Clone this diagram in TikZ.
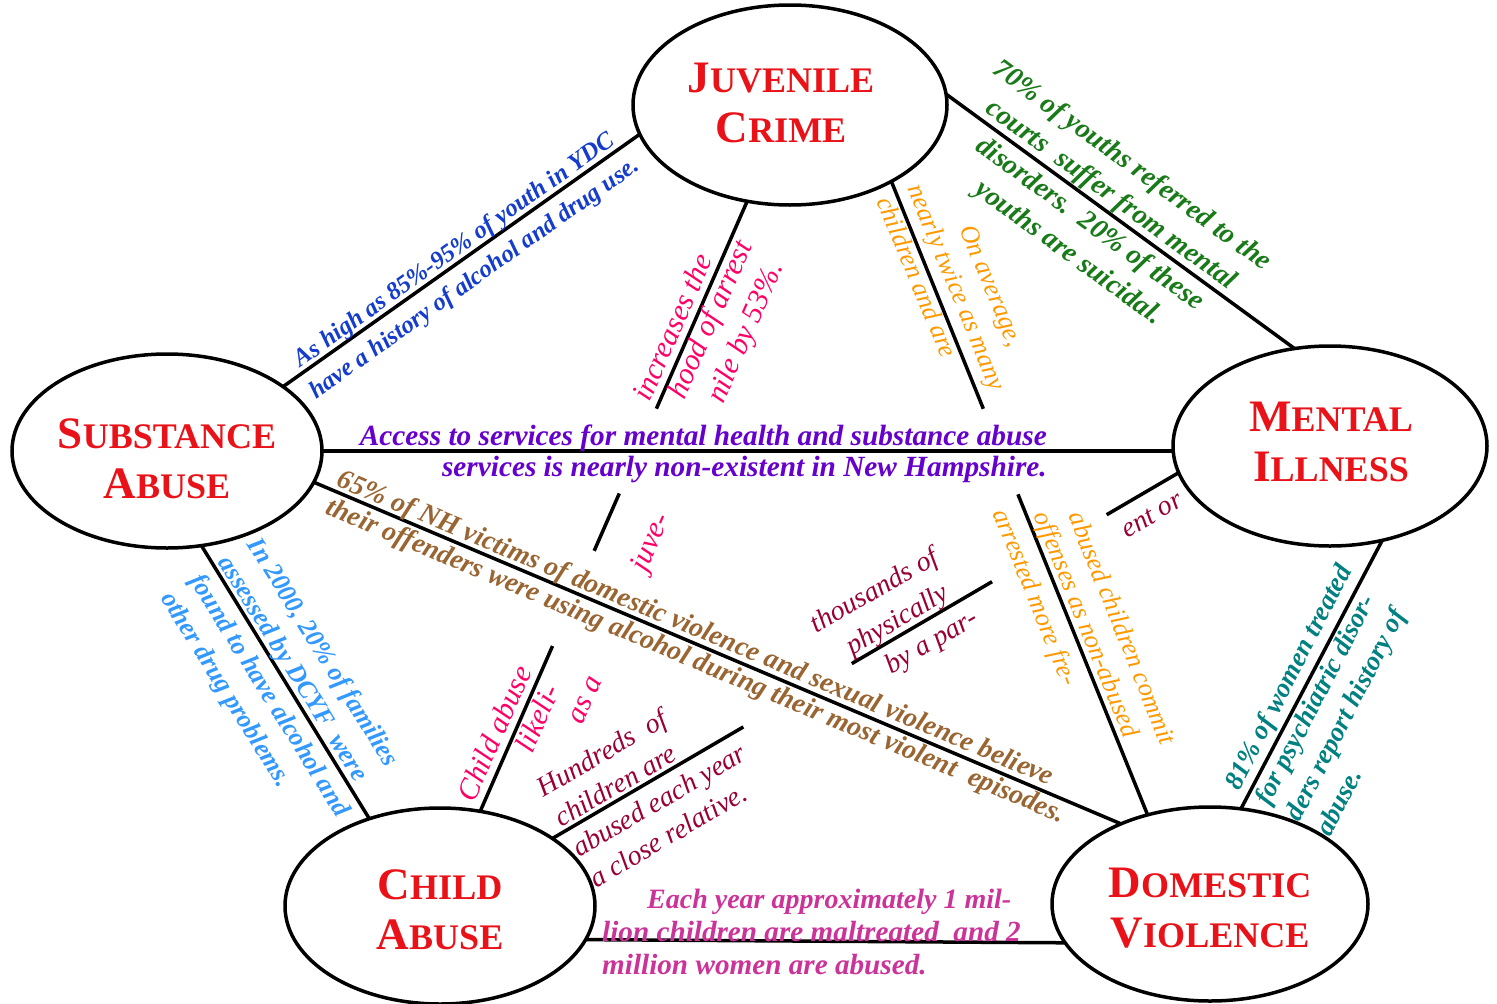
\documentclass[tikz,border=0pt]{standalone}
\usepackage{fontspec}
\setmainfont{Liberation Serif}
\usetikzlibrary{shapes.geometric,calc}
\definecolor{titlered}{RGB}{232,18,24}
\definecolor{cblue}{RGB}{20,60,205}
\definecolor{cgreen}{RGB}{26,122,26}
\definecolor{corange}{RGB}{255,153,0}
\definecolor{cpink}{RGB}{255,0,102}
\definecolor{cpurple}{RGB}{102,0,204}
\definecolor{cbrown}{RGB}{153,102,51}
\definecolor{clblue}{RGB}{51,153,255}
\definecolor{cdred}{RGB}{153,0,51}
\definecolor{cteal}{RGB}{0,128,128}
\definecolor{cmag}{RGB}{204,51,153}
\newcommand{\tsc}[2]{{\fontsize{45}{50}\selectfont #1}{\fontsize{36}{50}\selectfont #2}}
\newcommand{\myfs}[2]{\fontsize{#1}{#2}\selectfont}
\tikzset{
  conn/.style={line width=3.5pt, black},
  oval/.style={ellipse, draw, line width=3.5pt, inner sep=0pt, outer sep=0pt},
  ttl/.style={text=titlered, font=\bfseries\myfs{45}{50}, align=center, inner sep=0pt},
  lab/.style={inner sep=0pt, font=\itshape},
}
\begin{document}
\begin{tikzpicture}[x=1pt,y=-1pt]
\path[fill=white,use as bounding box] (0,0) rectangle (1497,1004);

% ellipses
\node[oval, minimum width=314, minimum height=200] (jc) at (790,105) {};
\node[oval, minimum width=310, minimum height=194] (sa) at (167,451) {};
\node[oval, minimum width=314, minimum height=200] (mi) at (1330,446) {};
\node[oval, minimum width=310, minimum height=196] (ca) at (440,906) {};
\node[oval, minimum width=316, minimum height=194] (dv) at (1210,904) {};

% titles
\node[ttl] (jct) at (781,103) {\tsc{J}{UVENILE}\\\tsc{C}{RIME}};
\node[ttl] (sat) at (167,459) {\tsc{S}{UBSTANCE}\\\tsc{A}{BUSE}};
\node[ttl] (mit) at (1331,442) {\tsc{M}{ENTAL}\\\tsc{I}{LLNESS}};
\node[ttl] (cat) at (440,910) {\tsc{C}{HILD}\\\tsc{A}{BUSE}};
\node[ttl] (dvt) at (1210,908) {\tsc{D}{OMESTIC}\\\tsc{V}{IOLENCE}};

% connectors
\draw[conn] (sa.29.6) -- (jc.191.1);
\draw[conn] (jc.4.4) -- (mi.110.8);
\draw[conn] (sa.east) -- (sa.east -| mi.west);
\draw[conn] (sa.-12.8) -- (dv.138.1);
\draw[conn] (sa.-70.8) -- (ca.129.3);
\coordinate (jcb) at (jc.246.3);
\coordinate (caj) at (ca.67.7);
\draw[conn] (jcb) -- ($(jcb)!0.34!(caj)$);
\draw[conn] ($(jcb)!0.479!(caj)$) -- ($(jcb)!0.573!(caj)$);
\draw[conn] ($(jcb)!0.729!(caj)$) -- (caj);
\coordinate (jcd) at (jc.-37.7);
\coordinate (dvj) at (dv.125.7);
\draw[conn] (jcd) -- ($(jcd)!0.359!(dvj)$);
\draw[conn] ($(jcd)!0.494!(dvj)$) -- (dvj);
\coordinate (mic) at (mi.190);
\coordinate (cam) at (ca.31.2);
\draw[conn] (mic) -- ($(mic)!0.115!(cam)$);
\draw[conn] ($(mic)!0.298!(cam)$) -- ($(mic)!0.522!(cam)$);
\draw[conn] ($(mic)!0.695!(cam)$) -- (cam);
\draw[conn] (mi.-61.7) -- (dv.72.9);
\draw[conn] (ca.-13.9) -- (dv.195.4);

% labels
\node[lab, text=cblue, rotate=35.4, align=center, font=\bfseries\itshape\myfs{24.8}{35}] (t1) at (465,265)
  {As high as 85\%-95\% of youth in YDC\\have a history of alcohol and drug use.};
\node[lab, text=cgreen, rotate=-36.1, align=center, font=\bfseries\itshape\myfs{28}{36}] (t2) at (1100,210)
  {70\% of youths referred to the\\courts\ \ suffer from mental\\disorders.\ \ 20\% of these\\youths are suicidal.};

\node[lab, text=cpink, rotate=66.2, font=\itshape\myfs{30}{34}] (p1) at (672,327) {increases the};
\node[lab, text=cpink, rotate=66.2, font=\itshape\myfs{30}{34}] (p2) at (712,320) {hood of arrest};
\node[lab, text=cpink, rotate=66.2, font=\itshape\myfs{30}{34}] (p3) at (747,333) {nile by 53\%.};
\node[lab, text=cpink, rotate=66.2, font=\itshape\myfs{30}{34}] (p4) at (652,543) {juve-};
\node[lab, text=cpink, rotate=66.2, font=\itshape\myfs{30}{34}] (p5) at (494,733) {Child abuse};
\node[lab, text=cpink, rotate=66.2, font=\itshape\myfs{30}{34}] (p6) at (537,718) {likeli-};
\node[lab, text=cpink, rotate=66.2, font=\itshape\myfs{30}{34}] (p7) at (586,700) {as a};

\node[lab, text=corange, rotate=-67.5, align=left, font=\itshape\myfs{26}{33}] (o1) at (957,287)
  {\hspace*{58pt}On average,\\nearly twice as many\\children and are};
\node[lab, text=corange, rotate=-68, font=\itshape\myfs{26}{34}] (o2) at (1123,628) {abused children commit};
\node[lab, text=corange, rotate=-68, font=\itshape\myfs{26}{34}] (o3) at (1085,625) {offenses as non-abused};
\node[lab, text=corange, rotate=-68, font=\itshape\myfs{26}{34}] (o4) at (1034,598) {arrested more fre-};

\node[lab, text=cpurple, align=right, anchor=north east, font=\bfseries\itshape\myfs{29.3}{31}] (t5) at (1047,425)
  {Access to services for mental health and substance abuse\\services is nearly non-existent in New Hampshire.};

\node[lab, text=cbrown, rotate=-22.8, align=left, font=\bfseries\itshape\myfs{27.8}{30}] (t6) at (701,648)
  {65\% of NH victims of domestic violence and sexual violence believe\\their offenders were using alcohol during their most violent\ \ episodes.};

\node[lab, text=clblue, rotate=-58.1, align=left, font=\bfseries\itshape\myfs{26}{34}] (t7) at (283,687)
  {In 2000, 20\% of families\\assessed by DCYF\ \ were\\found to have alcohol and\\other drug problems.};

\node[lab, text=cteal, rotate=62.9, align=left, font=\bfseries\itshape\myfs{27}{34}] (t8) at (1333,700)
  {81\% of women treated\\for psychiatric disor-\\ders report history of\\abuse.};

\node[lab, text=cdred, rotate=30.2, font=\itshape\myfs{28}{34}] (d1) at (1152,515) {ent or};
\node[lab, text=cdred, rotate=30.2, font=\itshape\myfs{28}{34}] (d2) at (875,592) {thousands of};
\node[lab, text=cdred, rotate=30.2, font=\itshape\myfs{28}{34}] (d3) at (898,621) {physically};
\node[lab, text=cdred, rotate=30.2, font=\itshape\myfs{28}{34}] (d4) at (932,643) {by a par-};
\node[lab, text=cdred, rotate=30.2, align=left, font=\itshape\myfs{28}{35}] (d5) at (650,785)
  {Hundreds\ \ of\\children are\\abused each year\\a close relative.};

\node[lab, text=cmag, anchor=north west, align=left, font=\bfseries\itshape\myfs{29.2}{33}] (t10) at (602,889)
  {\hspace*{45pt}{\myfs{28}{33}Each year approximately 1 mil-}\\lion children are maltreated\ \ and 2\\million women are abused.};
\end{tikzpicture}
\end{document}
